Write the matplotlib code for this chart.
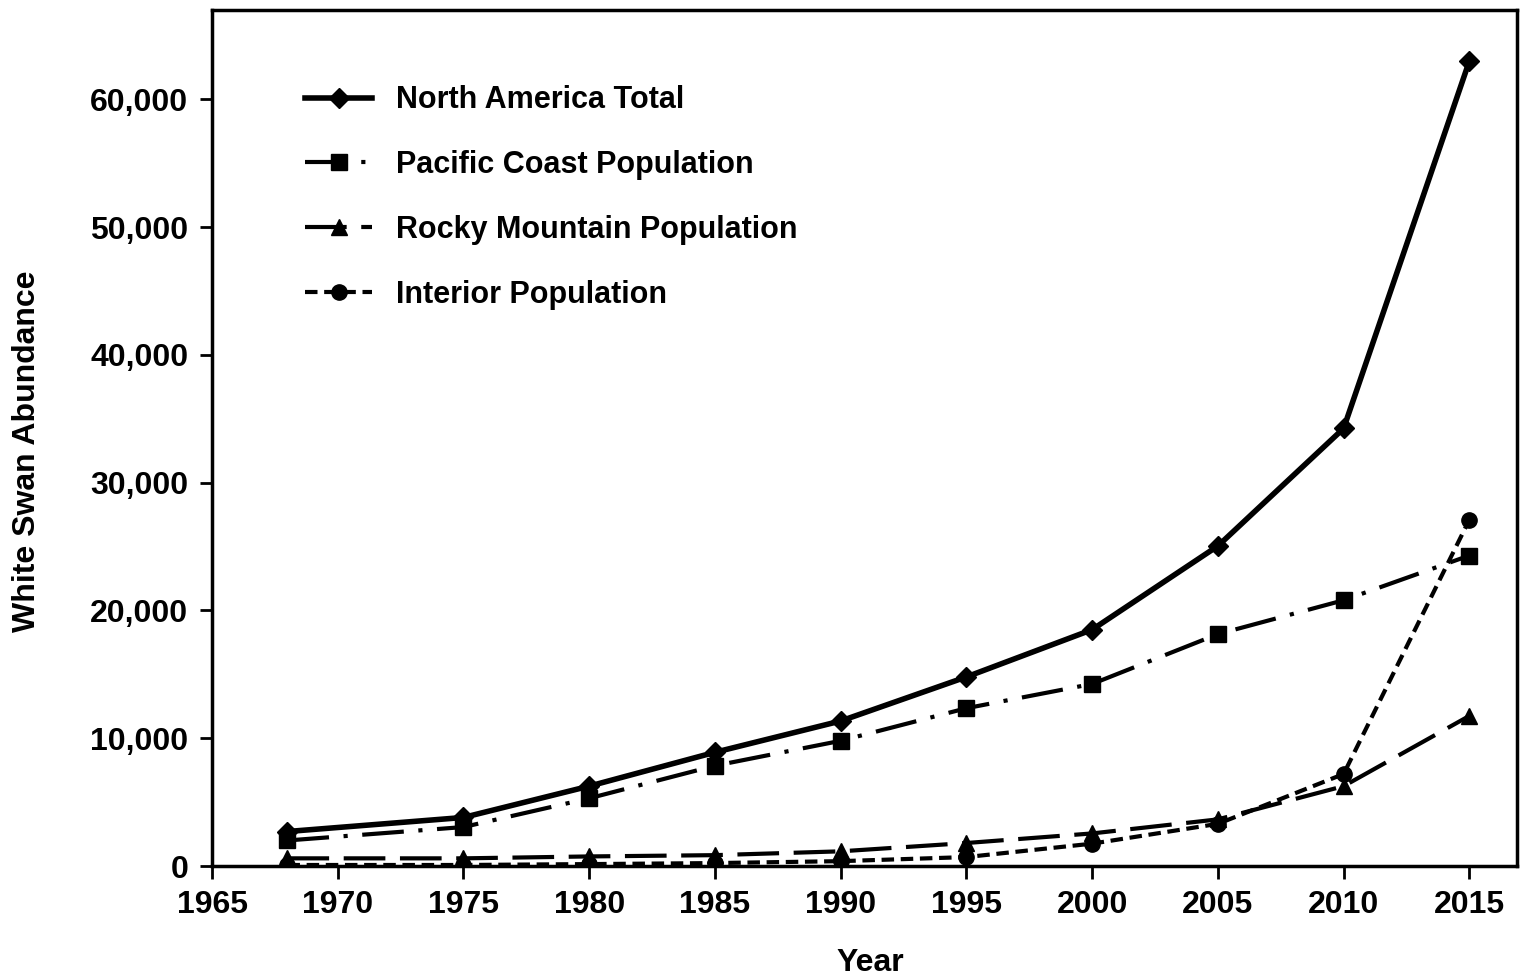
import matplotlib
matplotlib.use("Agg")
from matplotlib import pyplot as plt
from matplotlib.ticker import FuncFormatter

plt.rcParams['font.family'] = ['Liberation Sans', 'DejaVu Sans']
plt.rcParams['font.weight'] = 'bold'

years = [1968, 1975, 1980, 1985, 1990, 1995, 2000, 2005, 2010, 2015]
total = [2700, 3800, 6250, 8900, 11350, 14800, 18500, 25050, 34250, 63000]
pacific = [2000, 3050, 5300, 7850, 9800, 12350, 14250, 18150, 20800, 24300]
rocky = [600, 600, 750, 850, 1150, 1800, 2550, 3650, 6250, 11750]
interior = [80, 80, 150, 230, 380, 700, 1750, 3300, 7200, 27100]

fig = plt.figure(figsize=(15.22, 9.77), dpi=100)
ax = fig.add_axes([0.1393, 0.1136, 0.8575, 0.8762])

ax.plot(years, total, color='black', lw=4.0, marker='D', ms=10,
        label='North America Total')
ax.plot(years, pacific, color='black', lw=3.0, marker='s', ms=11,
        dashes=(10, 3.5, 1, 3.5), label='Pacific Coast Population')
ax.plot(years, rocky, color='black', lw=3.0, marker='^', ms=12,
        dashes=(10, 3.5), label='Rocky Mountain Population')
ax.plot(years, interior, color='black', lw=3.0, marker='o', ms=11,
        dashes=(3, 1.6), label='Interior Population')

ax.set_xlim(1965, 2016.9)
ax.set_ylim(0, 67000)
ax.set_xticks(range(1965, 2016, 5))
ax.set_yticks(range(0, 60001, 10000))
ax.yaxis.set_major_formatter(FuncFormatter(lambda v, p: f'{int(v):,}'))

for s in ax.spines.values():
    s.set_linewidth(2.5)
ax.tick_params(direction='out', length=9, width=2, labelsize=23, pad=8)
for lab in ax.get_xticklabels() + ax.get_yticklabels():
    lab.set_fontweight('bold')

ax.set_xlabel('Year', fontsize=23, fontweight='bold')
ax.set_ylabel('White Swan Abundance', fontsize=23, fontweight='bold')
ax.xaxis.set_label_coords(0.504, -0.096)
ax.yaxis.set_label_coords(-0.130, 0.484)

leg = ax.legend(loc='upper left', bbox_to_anchor=(0.0713, 0.912), frameon=False,
                fontsize=22, handlelength=2.2, handletextpad=0.78,
                labelspacing=1.14, numpoints=1, borderpad=0, borderaxespad=0)
for t in leg.get_texts():
    t.set_fontweight('bold')

fig.savefig('out.png', dpi=100)
